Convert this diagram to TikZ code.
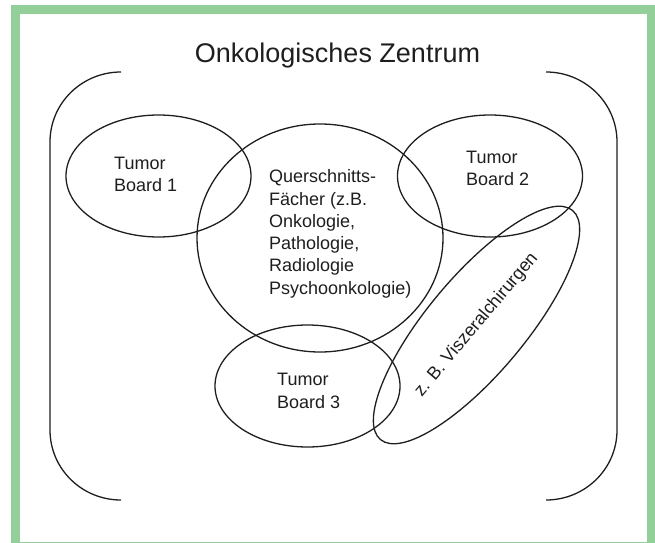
\documentclass[tikz,border=0pt]{standalone}
\usepackage{fontspec}
\setmainfont{Liberation Sans}
\usetikzlibrary{shapes.geometric}
\definecolor{framegreen}{HTML}{93CF98}
\definecolor{ink}{HTML}{1E1E1E}
\begin{document}
\begin{tikzpicture}[x=1bp,y=-1bp,
  shapeline/.style={draw=ink, line width=1.3bp},
  board/.style={shapeline, ellipse, inner sep=0pt, minimum width=185bp, minimum height=122bp},
  boardtext/.style={font=\fontsize{18bp}{22.2bp}\selectfont, text=ink, align=left, inner sep=0pt, anchor=base west},
]
\useasboundingbox (0,0) rectangle (655,543);
\begin{scope}
  \clip (0,0) rectangle (655,543);
  \draw[line width=9bp, draw=framegreen] (15.5,9.5) rectangle (651.5,546.5);
\end{scope}

\node[font=\fontsize{27bp}{32bp}\selectfont, text=ink, anchor=base, inner sep=0pt] (title) at (337.5,63) {Onkologisches Zentrum};

% brackets
\draw[shapeline] (121,72) .. controls (82,72) and (50,103) .. (50,142) -- (50,430) .. controls (50,469) and (82,500) .. (121,500);
\draw[shapeline] (546,72) .. controls (585,72) and (617,103) .. (617,142) -- (617,430) .. controls (617,469) and (585,500) .. (546,500);

% ellipses
\node[board] (tb1) at (158.5,176) {};
\node[board] (tb2) at (490,176) {};
\node[board] (tb3) at (307.5,386) {};
\node[shapeline, ellipse, inner sep=0pt, minimum width=246bp, minimum height=228bp] (quer) at (320,238) {};
\node[shapeline, ellipse, inner sep=0pt, minimum width=299bp, minimum height=97.6bp, rotate=50,
      font=\fontsize{18bp}{22.2bp}\selectfont, text=ink] (visz) at (476.5,325) {z. B. Viszeralchirurgen};

% texts (anchor at the baseline of the last line)
\node[boardtext] (t1) at (114,192) {Tumor\\Board 1};
\node[boardtext] (t2) at (466,186) {Tumor\\Board 2};
\node[boardtext] (t3) at (277,408) {Tumor\\Board 3};
\node[boardtext] (tq) at (269,294) {Querschnitts-\\Fächer (z.B.\\Onkologie,\\Pathologie,\\Radiologie\\Psychoonkologie)};
\end{tikzpicture}
\end{document}
